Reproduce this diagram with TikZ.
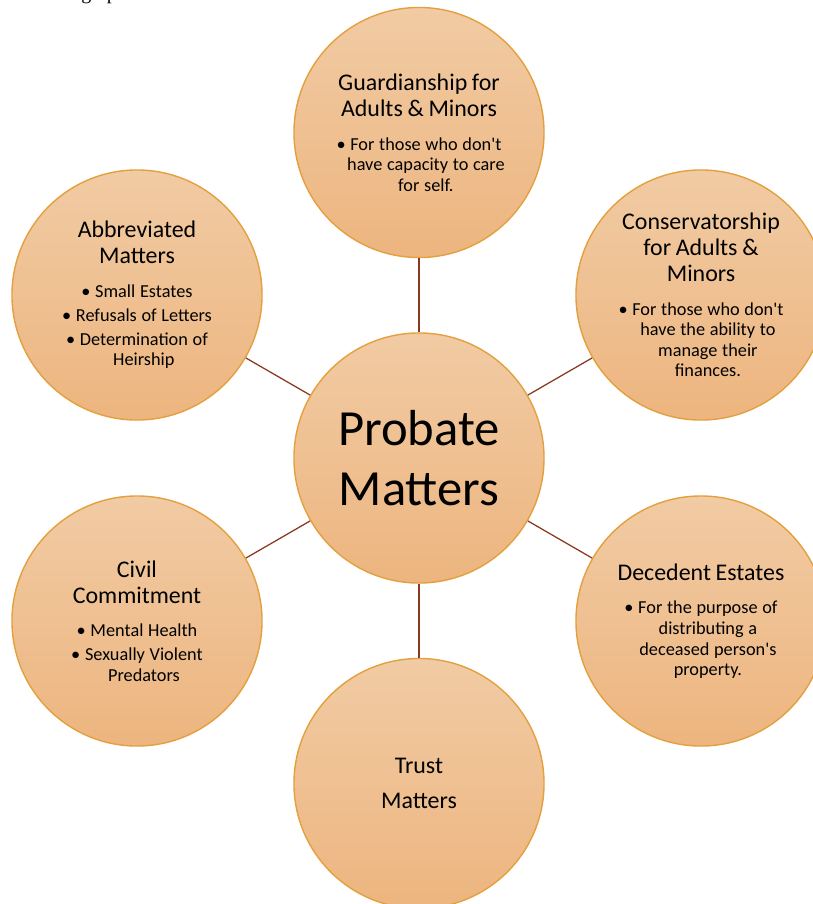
\documentclass[tikz,border=0pt]{standalone}
\usepackage{fontspec}
\setmainfont{Carlito}
\newfontfamily\docfont{Liberation Serif}

\definecolor{petalTop}{RGB}{241,203,164}
\definecolor{petalBottom}{RGB}{237,181,127}
\definecolor{petalEdge}{RGB}{228,160,62}
\definecolor{spokeBrown}{RGB}{140,56,30}

\newcommand{\headfont}{\fontsize{17}{18.5}\selectfont}
\newcommand{\itemfont}{\fontsize{13}{14.6}\selectfont}
\newcommand{\hang}{\hphantom{\textbullet~}}
\newcommand{\sq}{\textquotesingle}

\begin{document}
\begin{tikzpicture}[x=0.025cm,y=-0.025cm,
  petal/.style={circle,minimum size=6.25cm,inner sep=0pt,top color=petalTop,bottom color=petalBottom,draw=petalEdge,line width=1pt,text width=4.4cm,align=center},
  spokeline/.style={draw=spokeBrown,line width=0.9pt}]
\useasboundingbox (0,0) rectangle (813,904);

% clipped line of the page above
\node[font=\docfont\fontsize{14.2}{16}\selectfont,anchor=base west,inner sep=0pt] (frag) at (81,-0.6) {graph};

\node[petal] (probate) at (419,458) {\fontsize{36}{42.7}\selectfont Probate\\ Matters\par};

\node[petal] (guard) at (419,132.5) {\headfont Guardianship for\\ Adults \& Minors\par\vspace{9.5pt}
  \itemfont\textbullet~For those who don\sq t\\ \hang have capacity to care\\ \hang for self.\par};
\node[petal] (conserv) at (701,295) {\headfont Conservatorship\\ for Adults \&\\ Minors\par\vspace{9.5pt}
  \itemfont\textbullet~For those who don\sq t\\ \hang have the ability to\\ \hang manage their\\ \hang finances.\par};
\node[petal] (decedent) at (701,621) {\headfont Decedent Estates\par\vspace{9.5pt}
  \itemfont\textbullet~For the purpose of\\ \hang distributing a\\ \hang deceased person\sq s\\ \hang property.\par};
\node[petal] (trust) at (419,783.5) {\headfont Trust\par\vspace{6.5pt}Matters\par};
\node[petal] (civil) at (137,621) {\headfont Civil\\ Commitment\par\vspace{9.5pt}
  \itemfont\textbullet~Mental Health\par\vspace{2.4pt}
  \textbullet~Sexually Violent\\ \hang Predators\par};
\node[petal] (abbrev) at (137,295) {\headfont Abbreviated\\ Matters\par\vspace{9.5pt}
  \itemfont\textbullet~Small Estates\par\vspace{2.4pt}
  \textbullet~Refusals of Letters\par\vspace{2.4pt}
  \textbullet~Determination of\\ \hang Heirship\par};

% spokes from the hub
\foreach \p in {guard,conserv,decedent,trust,civil,abbrev}
  \draw[spokeline] (probate) -- (\p);
\end{tikzpicture}
\end{document}
